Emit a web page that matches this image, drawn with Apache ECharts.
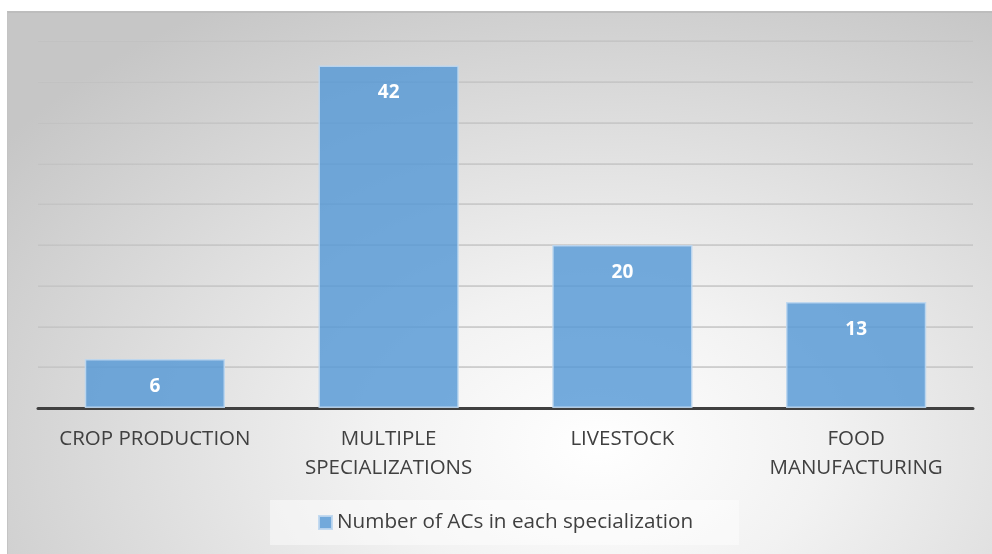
<!DOCTYPE html>
<html>
<head>
<meta charset="utf-8">
<script src="https://cdn.jsdelivr.net/npm/echarts@6/dist/echarts.min.js"></script>
<style>
  html, body { margin: 0; padding: 0; background: #ffffff; }
  #frame {
    position: absolute; left: 7px; top: 11px; width: 985px; height: 543px;
    box-sizing: border-box;
    border-top: 2px solid #bdbdbd; border-left: 1px solid #c4c4c4;
    background: radial-gradient(ellipse 75% 95% at 60% 80%, #ffffff 0%, #f2f2f2 30%, #c6c6c6 100%);
  }
  #chart { position: absolute; left: 0; top: 0; width: 992px; height: 554px; }
</style>
</head>
<body>
<div id="frame"></div>
<div id="chart"></div>
<script>
// Agricultural cooperatives by specialization
const categories = ['CROP PRODUCTION', 'MULTIPLE\nSPECIALIZATIONS', 'LIVESTOCK', 'FOOD\nMANUFACTURING'];
const counts = [6, 42, 20, 13];
const seriesName = 'Number of ACs in each specialization';
const yMin = 0, yMax = 45, yStep = 5;

const FONT = '"Open Sans", "Noto Sans", sans-serif';
const chart = echarts.init(document.getElementById('chart'), null, { renderer: 'canvas' });

chart.setOption({
  backgroundColor: 'transparent',
  animation: false,
  textStyle: { fontFamily: FONT },
  grid: { left: 38, right: 19, top: 41, bottom: 146, containLabel: false },
  legend: {
    data: [seriesName],
    left: 270, top: 500,
    padding: [12, 46, 12, 48],
    backgroundColor: 'rgba(255,255,255,0.45)',
    itemWidth: 13, itemHeight: 13, itemGap: 6,
    icon: 'rect',
    textStyle: { fontFamily: FONT, fontSize: 20.7, color: '#404040', padding: [0, 0, 0, 0] }
  },
  xAxis: {
    type: 'category',
    data: categories,
    axisLine: { show: true, lineStyle: { color: '#404040', width: 3 } },
    axisTick: { show: false },
    axisLabel: {
      interval: 0, margin: 17,
      fontFamily: FONT, fontSize: 20.5, color: '#404040', lineHeight: 29, align: 'center'
    }
  },
  yAxis: {
    type: 'value',
    min: yMin, max: yMax, interval: yStep,
    axisLine: { show: false }, axisTick: { show: false }, axisLabel: { show: false },
    splitLine: {
      show: true,
      lineStyle: {
        width: 1.5,
        color: new echarts.graphic.LinearGradient(0, 0, 0, 1, [
          { offset: 0, color: '#d4d4d4' },
          { offset: 0.6, color: '#c0c0c0' },
          { offset: 1, color: '#8a8a8a' }
        ], false)
      }
    }
  },
  series: [{
    name: seriesName,
    type: 'bar',
    data: counts,
    barWidth: '60%',
    itemStyle: {
      color: 'rgba(86,152,214,0.82)',
      borderColor: 'rgba(190,215,240,0.9)',
      borderWidth: 1.5
    },
    label: {
      show: true, position: 'insideTop', distance: 18,
      fontFamily: FONT, fontSize: 19, fontWeight: 'bold', color: '#ffffff'
    },
    z: 3
  }]
});
</script>
</body>
</html>
